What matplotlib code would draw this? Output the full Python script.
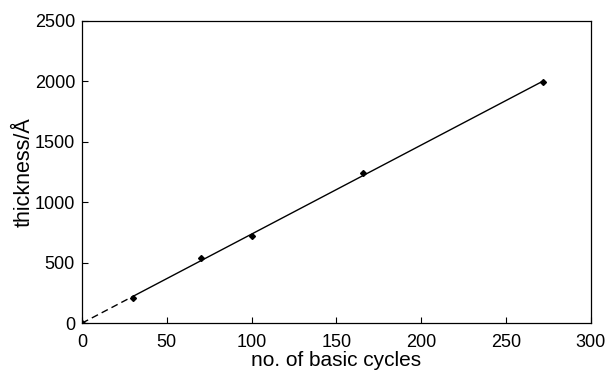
import numpy as np
import matplotlib.pyplot as plt

plt.rcParams['font.family'] = ['Liberation Sans', 'DejaVu Sans']

# measured film thickness vs number of cycles
cycles = np.array([0, 30, 70, 100, 166, 272])
thickness = np.array([0, 210, 535, 720, 1240, 1995])

# linear fit through the origin
slope = np.sum(cycles * thickness) / np.sum(cycles ** 2)

fig = plt.figure(figsize=(6.09, 3.74), dpi=100)
ax = fig.add_axes([0.1346, 0.136, 0.8354, 0.808])

x_dash = np.array([0, cycles[1]])
x_solid = np.array([cycles[1], cycles[-1]])
ax.plot(x_dash, slope * x_dash, color='black', lw=1.0, ls=(0, (5, 3)))
ax.plot(x_solid, slope * x_solid, color='black', lw=1.0)
ax.plot(cycles, thickness, ls='none', marker='D', ms=3, color='black')

ax.set_xlim(0, 300)
ax.set_ylim(0, 2500)
ax.set_xticks(np.arange(0, 301, 50))
ax.set_yticks(np.arange(0, 2501, 500))
ax.tick_params(direction='in', length=4, width=0.8, labelsize=13)
ax.tick_params(axis='x', pad=8)
ax.tick_params(axis='y', pad=5)
for s in ax.spines.values():
    s.set_linewidth(0.9)

ax.set_xlabel('no. of basic cycles', fontsize=15, labelpad=0)
ax.set_ylabel('thickness/Å', fontsize=15.5, labelpad=0)

fig.savefig('out.png', dpi=100)
